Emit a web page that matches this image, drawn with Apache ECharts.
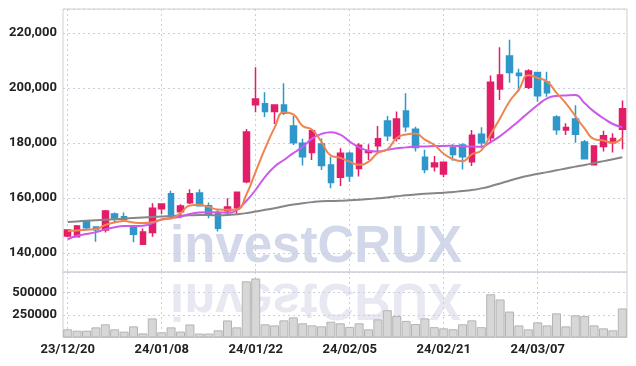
<!DOCTYPE html>
<html><head><meta charset="utf-8">
<script src="https://cdn.jsdelivr.net/npm/echarts@6/dist/echarts.min.js"></script>
<style>html,body{margin:0;padding:0;background:#fff}#c{width:636px;height:366px}</style>
</head><body><div id="c"></div>
<script>
const categories = ["23/12/20","23/12/21","23/12/22","23/12/26","23/12/27","23/12/28","24/01/02","24/01/03","24/01/04","24/01/05",
"24/01/08","24/01/09","24/01/10","24/01/11","24/01/12","24/01/15","24/01/16","24/01/17","24/01/18","24/01/19",
"24/01/22","24/01/23","24/01/24","24/01/25","24/01/26","24/01/29","24/01/30","24/01/31","24/02/01","24/02/02",
"24/02/05","24/02/06","24/02/07","24/02/08","24/02/13","24/02/14","24/02/15","24/02/16","24/02/19","24/02/20",
"24/02/21","24/02/22","24/02/23","24/02/26","24/02/27","24/02/28","24/02/29","24/03/04","24/03/05","24/03/06",
"24/03/07","24/03/08","24/03/11","24/03/12","24/03/13","24/03/14","24/03/15","24/03/18","24/03/19","24/03/20"];
// [open, close, low, high]
const candles = [
[146200,148400,145700,148600],[145900,149800,145700,150200],[151400,149200,148400,151600],[149500,148500,144100,149700],[148400,155300,147500,155600],
[154200,152700,151000,154700],[153200,152200,152000,154700],[149500,146800,143900,150200],[143200,147600,142900,148900],[147500,156300,145900,158100],
[156100,157800,154200,158100],[161500,153700,153200,162600],[155000,157100,152600,157700],[158300,161500,157800,163200],[161800,157200,156900,163200],
[157200,154100,152600,158400],[154300,149000,147800,155600],[155400,156700,153800,159900],[156500,162100,154200,162300],[165900,184000,165400,185100],
[193900,196000,191200,207500],[194300,191400,189400,198400],[191400,193800,186900,193900],[193800,190800,190200,201700],[186200,180100,179300,189800],
[179900,175000,171800,181500],[176500,184400,173800,185100],[179600,171800,170200,181600],[172000,165600,163500,175000],[167500,176300,164400,178100],
[176300,168000,165900,176900],[170700,179200,167800,179900],[176500,176900,173800,179500],[179000,181500,176300,186200],[188000,182600,180700,189800],
[181600,188700,180500,191400],[191600,185900,184100,198100],[185000,178400,176900,185900],[174800,170400,169000,177500],[171400,172700,169600,175300],
[168700,173000,167500,173200],[178300,175800,173500,179500],[179300,175000,170400,179900],[173200,182800,171600,184700],[183200,180100,178100,185700],
[181900,202100,179900,204500],[199600,204700,195600,214800],[211600,205600,201900,217500],[205300,204500,198700,207000],[200300,206200,199600,206800],
[205600,197200,195000,205900],[202200,198300,196800,205900],[189400,184800,183000,190100],[184700,185600,182900,187200],[188700,183200,180100,193700],
[180400,174300,174100,181100],[172100,178900,171800,178900],[178700,182600,176900,184400],[180100,181600,176500,183500],[185000,192400,177700,195400]];
const ma5 = [148000,148200,148500,148700,150200,151100,151600,151100,150900,151200,
152200,152500,154500,157300,157500,156700,155800,155700,155800,161200,
169600,178000,185500,191200,190400,186200,184800,180400,175400,174600,
173200,172100,173200,176400,177600,181800,183100,183400,181200,179300,
176100,174100,173400,175900,177300,183200,189000,195100,199400,204600,
203600,202300,198200,194400,189800,185200,181400,180900,180100,181900];
const ma10 = [145000,146300,146900,147600,148600,149400,149800,149800,149900,150800,
152200,152700,153200,154200,154700,154800,154800,154600,155700,158900,
163000,167700,171400,173800,176300,178600,181600,183300,183900,183000,
180500,178400,177200,176900,177500,178100,178400,178700,178700,178900,
178900,179000,178800,178700,178600,180300,182500,185200,188000,191000,
193800,196200,197100,197300,197450,194400,191400,189000,186900,185700];
const maLong = [151300,151500,151700,151900,152100,152300,152500,152700,152900,153100,
153300,153500,153600,153700,153800,153800,153700,153800,154100,154500,
155100,155700,156300,157000,157600,158100,158500,158800,158900,159000,
159200,159400,159600,159900,160200,160600,161000,161300,161500,161700,
161900,162200,162500,162900,163500,164300,165300,166300,167300,168100,
168800,169400,170100,170700,171400,172000,172700,173400,174100,174800];
const volumes = [91000,76000,76000,113000,147000,91000,65000,124000,46000,213000,
58000,113000,66000,145000,44000,44000,80000,190000,113000,626000,
658000,147000,135000,191000,224000,158000,135000,124000,176000,158000,
118000,158000,91000,202000,304000,239000,185000,150000,213000,115000,
102000,92000,147000,191000,115000,482000,424000,289000,135000,91000,
169000,135000,269000,124000,247000,238000,135000,102000,80000,324000];

const UP = '#e31e68', DOWN = '#2f97c9';
const FONT = 'Roboto, "Liberation Sans", sans-serif';
const gridLine = {show: true, lineStyle: {color: '#c9cfdf', type: [2, 3], width: 1}};
const chart = echarts.init(document.getElementById('c'));
chart.setOption({
  animation: false,
  backgroundColor: '#fff',
  graphic: [
    {type: 'text', z: -1, x: 316, y: 273, silent: true,
     style: {text: 'investCRUX', font: 'bold 51px "Liberation Sans", Arial, sans-serif', fill: '#d2d8ea',
       textAlign: 'center', textVerticalAlign: 'bottom', align: 'center', verticalAlign: 'bottom'}},
    {type: 'text', z: -1, x: 316, y: 273, scaleY: -1, originX: 0, originY: 0, silent: true,
     style: {text: 'investCRUX', font: 'bold 51px "Liberation Sans", Arial, sans-serif', fill: '#e7e8f1',
       textAlign: 'center', textVerticalAlign: 'bottom', align: 'center', verticalAlign: 'bottom'}}
  ],
  grid: [
    {left: 63, right: 9, top: 9, height: 263, show: true, borderColor: '#cfcfcf', borderWidth: 1, outerBoundsMode: 'none'},
    {left: 63, right: 9, top: 272, height: 65.5, show: true, borderColor: '#cfcfcf', borderWidth: 1, outerBoundsMode: 'none'}
  ],
  xAxis: [
    {type: 'category', gridIndex: 0, data: categories, boundaryGap: true,
     axisLine: {show: false}, axisTick: {show: false}, axisLabel: {show: false},
     splitLine: Object.assign({interval: 9, alignWithLabel: true}, gridLine)},
    {type: 'category', gridIndex: 1, data: categories, boundaryGap: true,
     axisLine: {show: false}, axisTick: {show: false},
     axisLabel: {interval: 9, color: '#222', fontFamily: FONT, fontSize: 13, fontWeight: 'bold', margin: 6},
     splitLine: Object.assign({interval: 9, alignWithLabel: true}, gridLine)}
  ],
  yAxis: [
    {type: 'value', gridIndex: 0, min: 133100, max: 228700, scale: true,
     axisLine: {show: false}, axisTick: {show: false},
     axisLabel: {color: '#222', fontFamily: FONT, fontSize: 13, fontWeight: 'bold', margin: 6,
       showMinLabel: false, showMaxLabel: false, formatter: v => v.toLocaleString('en-US')},
     splitLine: gridLine},
    {type: 'value', gridIndex: 1, min: 0, max: 730000, interval: 250000,
     axisLine: {show: false}, axisTick: {show: false},
     axisLabel: {color: '#222', fontFamily: FONT, fontSize: 13, fontWeight: 'bold', margin: 6,
       showMinLabel: false, showMaxLabel: false, formatter: v => String(v)},
     splitLine: gridLine}
  ],
  series: [
    {type: 'bar', xAxisIndex: 1, yAxisIndex: 1, data: volumes, barCategoryGap: '4%',
     itemStyle: {color: '#d7d7d7', borderColor: '#b4b4b4', borderWidth: 1}},
    {type: 'candlestick', xAxisIndex: 0, yAxisIndex: 0, data: candles, barWidth: 6,
     itemStyle: {color: UP, color0: DOWN, borderColor: UP, borderColor0: DOWN, borderWidth: 1.5}},
    {type: 'line', data: maLong, smooth: true, symbol: 'none', z: 3, lineStyle: {color: '#868686', width: 2}},
    {type: 'line', data: ma10, smooth: true, symbol: 'none', z: 3, lineStyle: {color: '#cb5ae9', width: 2}},
    {type: 'line', data: ma5, smooth: true, symbol: 'none', z: 3, lineStyle: {color: '#ee8550', width: 2}}
  ]
});
</script></body></html>
